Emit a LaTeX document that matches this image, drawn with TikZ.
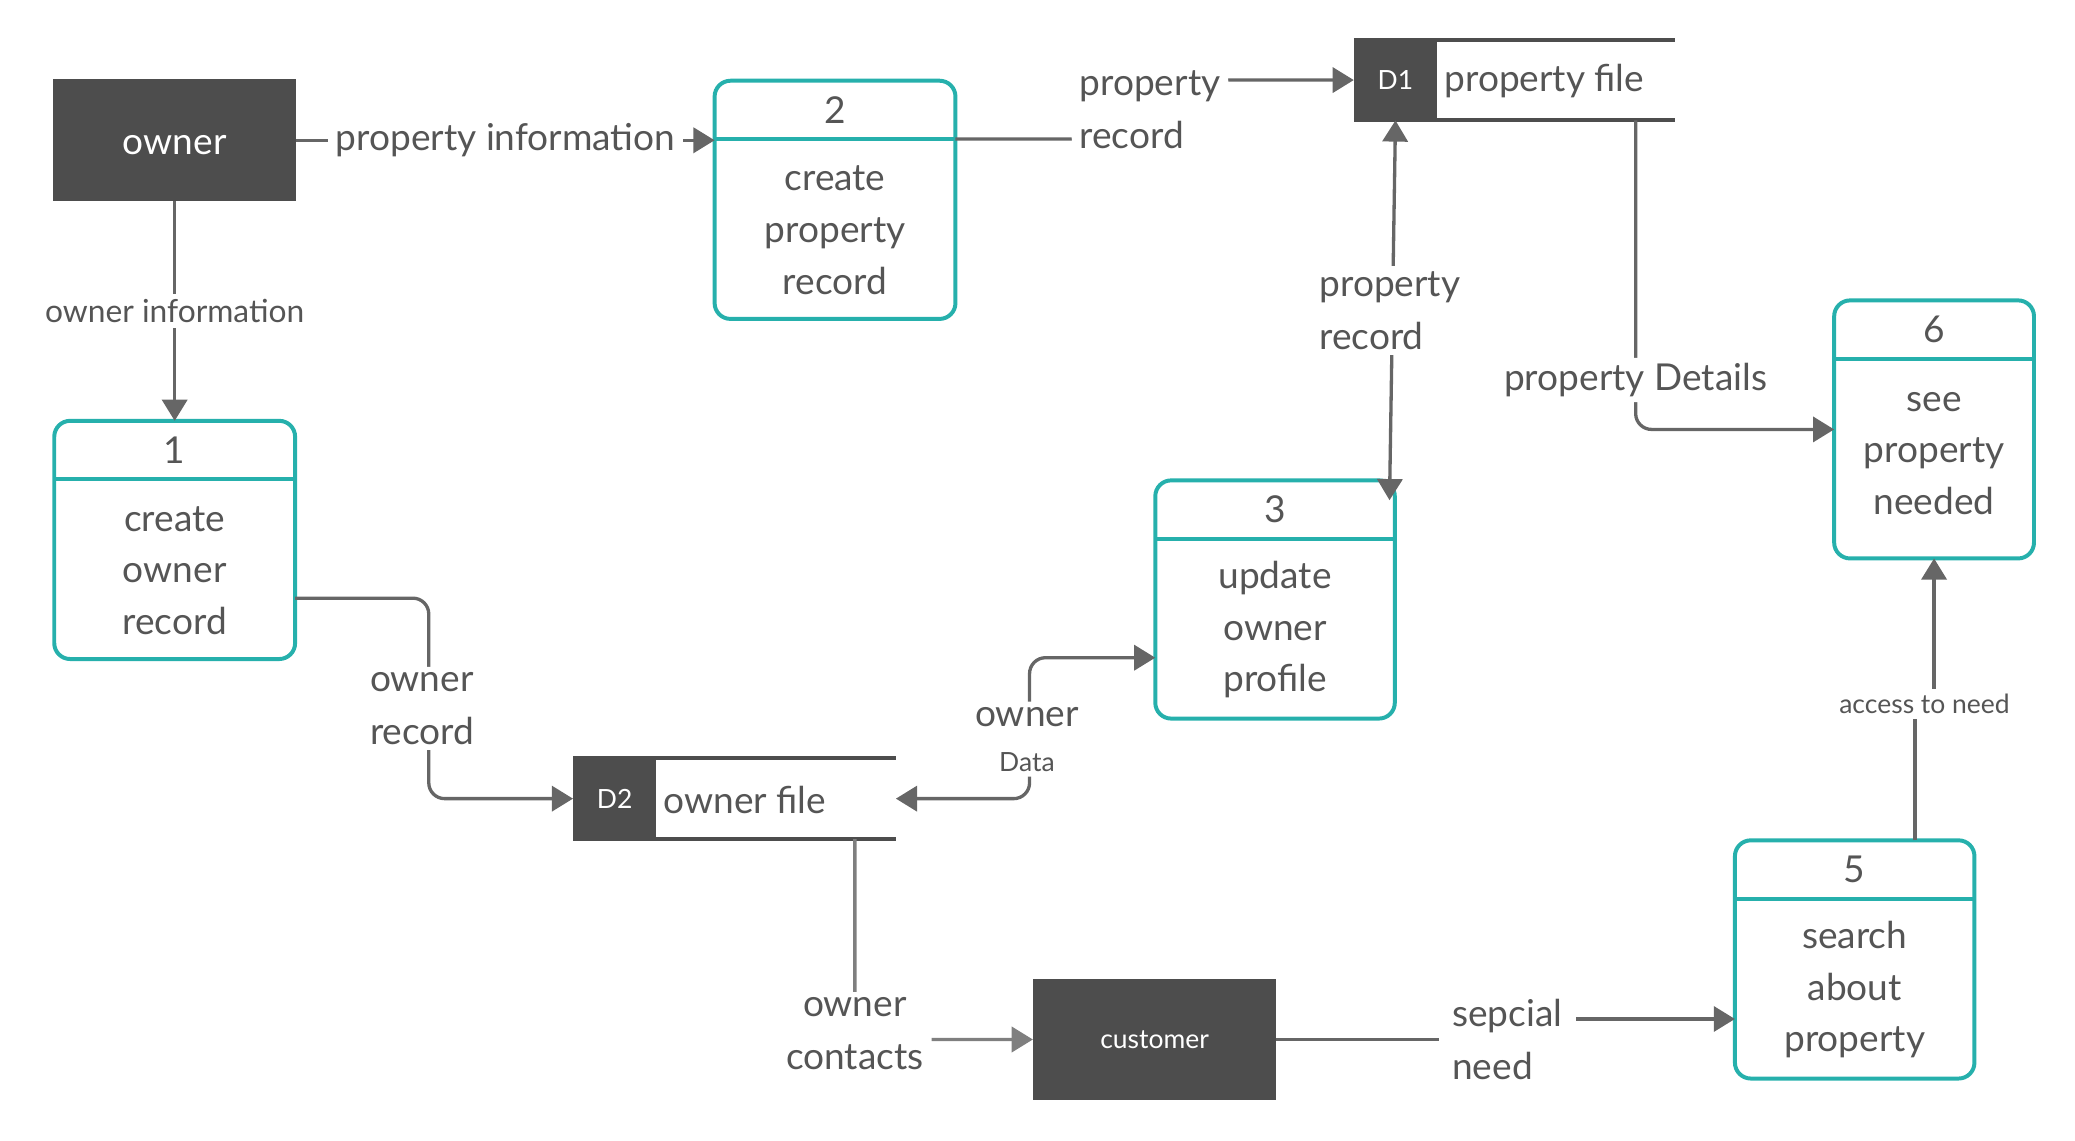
\documentclass[tikz,border=0pt]{standalone}
\usepackage{fontspec}
\setmainfont{Lato}
\usetikzlibrary{arrows.meta}

\definecolor{boxteal}{HTML}{26B0AC}
\definecolor{darkfill}{HTML}{4D4D4D}
\definecolor{flowgray}{HTML}{666666}
\definecolor{lightflow}{HTML}{7F7F7F}
\definecolor{txtgray}{HTML}{555555}

\tikzset{
  entity/.style={fill=darkfill, text=white, minimum width=184pt, minimum height=92pt, outer sep=0pt, font=\fontsize{28}{34}\selectfont},
  procbox/.style={draw=boxteal, line width=3pt, rounded corners=12pt, minimum width=182pt, minimum height=180pt, outer sep=0pt},
  procline/.style={draw=boxteal, line width=3pt},
  proctext/.style={text=txtgray, align=center, font=\fontsize{28}{39}\selectfont},
  storebox/.style={fill=darkfill, text=white, minimum width=63pt, minimum height=61pt, outer sep=0pt, font=\fontsize{20}{24}\selectfont},
  storeline/.style={draw=darkfill, line width=3pt},
  flow/.style={draw=flowgray, line width=2.5pt, -{Triangle[length=16pt,width=19pt]}},
  flowboth/.style={flow, {Triangle[length=16pt,width=19pt]}-{Triangle[length=16pt,width=19pt]}},
  lbl/.style={fill=white, text=txtgray, align=left, inner xsep=6pt, inner ysep=4pt, font=\fontsize{28}{40}\selectfont},
  smalllbl/.style={lbl, font=\fontsize{24}{28}\selectfont},
  tinylbl/.style={lbl, font=\fontsize{20}{24}\selectfont},
}

\begin{document}
\begin{tikzpicture}[x=1pt,y=-1pt]
    \useasboundingbox (0,0) rectangle (1568,862);

    % Внешние сущности
    \node[entity, text height=22pt, text depth=0pt] (owner) at (132,106) {owner};
    \node[entity, font=\fontsize{20}{24}\selectfont] (customer) at (872.5,785.5) {customer};

    % Процессы
    \node[procbox] (p1) at (132,408) {};
    \draw[procline] ([yshift=-44pt]p1.north west) -- ([yshift=-44pt]p1.north east);
    \node[proctext] at ([yshift=-22pt]p1.north) {1};
    \node[proctext] at ([yshift=-23pt]p1.center) {create\\owner\\record};

    \node[procbox] (p2) at (631,151) {};
    \draw[procline] ([yshift=-44pt]p2.north west) -- ([yshift=-44pt]p2.north east);
    \node[proctext] at ([yshift=-22pt]p2.north) {2};
    \node[proctext] at ([yshift=-23pt]p2.center) {create\\property\\record};

    \node[procbox, minimum width=181pt] (p3) at (963.5,453) {};
    \draw[procline] ([yshift=-44pt]p3.north west) -- ([yshift=-44pt]p3.north east);
    \node[proctext] at ([yshift=-22pt]p3.north) {3};
    \node[proctext] at ([yshift=-23pt]p3.center) {update\\owner\\profile};

    \node[procbox, minimum width=181pt] (p5) at (1401.5,725) {};
    \draw[procline] ([yshift=-44pt]p5.north west) -- ([yshift=-44pt]p5.north east);
    \node[proctext] at ([yshift=-22pt]p5.north) {5};
    \node[proctext] at ([yshift=-23pt]p5.center) {search\\about\\property};

    \node[procbox, minimum width=151pt, minimum height=195pt] (p6) at (1461.5,324.5) {};
    \draw[procline] ([yshift=-44pt]p6.north west) -- ([yshift=-44pt]p6.north east);
    \node[proctext] at ([yshift=-22pt]p6.north) {6};
    \node[proctext] at ([yshift=-18pt]p6.center) {see\\property\\needed};

    % Хранилища
    \node[storebox] (d1) at (1054.5,60.5) {D1};
    \draw[storeline] (d1.north west) -- (1266,30);
    \draw[storeline] (d1.south west) -- (1266,91);
    \node[proctext, anchor=west] (d1txt) at (1088,61.5) {property file};

    \node[storebox] (d2) at (464.5,603.5) {D2};
    \draw[storeline] (d2.north west) -- (677,573);
    \draw[storeline] (d2.south west) -- (677,634);
    \node[proctext, anchor=west] (d2txt) at (498,604.5) {owner file};

    \coordinate (d1b) at (1236,91);
    \coordinate (d2b) at (646,634);
    \coordinate (d2e) at (677,603.5);
    \coordinate (p3in) at (1050,378);

    % Потоки
    \draw[flow] (owner) -- node[smalllbl] {owner information} (p1);
    \draw[flow] (owner.east) -- node[lbl] {property information} (owner.east -| p2.west);
    \draw[flow, rounded corners=12pt] ([yshift=-44pt]p2.north east) -- (869,105)
        -- node[lbl] {property\\record} (869,60.5) -- (d1.west);
    \draw[flowboth] (d1.south) -- node[lbl, xshift=-2pt] {property\\record} (p3in);
    \draw[flow, rounded corners=12pt] (d1b) |- node[lbl, pos=0.42] {property Details} (p6.west);
    \draw[flow, rounded corners=12pt] ([yshift=-44pt]p1.east) -- (324,452)
        -- node[lbl, pos=0.55, xshift=-5pt] {owner\\record} (324,603.5) -- (d2.west);
    \draw[flowboth, rounded corners=12pt] ([yshift=-44pt]p3.west) -- (778,497)
        -- node[lbl, align=center, pos=0.55, xshift=-2pt, yshift=-3pt] {owner\\[-6pt]\fontsize{20}{24}\selectfont Data} (778,603.5) -- (d2e);
    \draw[flow, draw=lightflow, rounded corners=12pt] (d2b) |- node[lbl, align=center, pos=0.485] {owner\\contacts} (customer.west);
    \draw[flow] (customer.east) -- (1144,785.5)
        -- node[lbl, inner xsep=10pt, xshift=-5pt, yshift=-8pt] {sepcial\\need} (1144,770) -- ([yshift=-45pt]p5.west);
    \draw[flow] ([xshift=45.5pt]p5.north) -- (1447,532)
        -- node[tinylbl] {access to need} (1461.5,532) -- (p6.south);
\end{tikzpicture}
\end{document}
